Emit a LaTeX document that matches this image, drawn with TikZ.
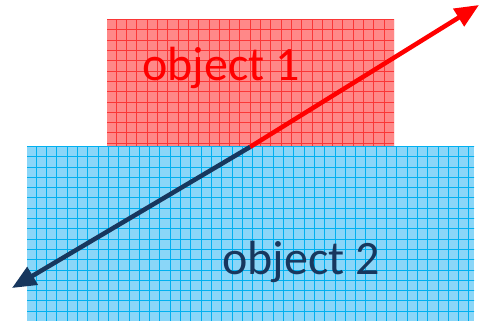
\documentclass[tikz,border=0pt]{standalone}
\usepackage{fontspec}
\setmainfont{Carlito}
\usetikzlibrary{arrows.meta}
\definecolor{redfill}{RGB}{255,136,136}
\definecolor{redline}{RGB}{250,55,55}
\definecolor{bluefill}{RGB}{138,214,248}
\definecolor{blueline}{RGB}{0,176,240}
\definecolor{navy}{RGB}{23,55,94}
\tikzset{
  objlabel/.style={font=\fontsize{48}{52}\selectfont, inner sep=0pt, anchor=base west},
  bigarrow/.style={line width=4.5pt, -{Triangle[length=24pt,width=20pt]}},
  gridline/.style={line width=0.9pt}
}
\begin{document}
\begin{tikzpicture}[x=1pt,y=1pt]
\useasboundingbox (0,0) rectangle (480,321);
% object 1 (red)
\fill[redfill] (107,174) rectangle (394,301);
\begin{scope}
  \clip (107,174) rectangle (394,301);
  \draw[redline, gridline, shift={(116.3,229.3)}] (-20.6,-72.1) grid[step=10.3pt] (288.4,82.4);
\end{scope}
% object 2 (blue)
\fill[bluefill] (27,0) rectangle (474,174);
\begin{scope}
  \clip (27,0) rectangle (474,174);
  \draw[blueline, gridline, shift={(36.3,164.3)}] (-20.6,-175.1) grid[step=10.3pt] (463.5,20.6);
\end{scope}
\node[objlabel, text=red] (o1) at (142,240) {object 1};
\node[objlabel, text=navy] (o2) at (222,46) {object 2};
\coordinate (c) at (250,174);
\coordinate (rt) at (479,316);
\coordinate (bt) at (12,33);
\draw[bigarrow, red] (c) -- (rt);
\draw[bigarrow, navy] (c) -- (bt);
\end{tikzpicture}
\end{document}
